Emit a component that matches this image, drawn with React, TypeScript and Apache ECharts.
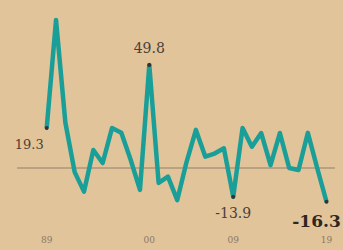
import React, { useEffect, useRef } from "react";
import * as echarts from "echarts";

const years = [
  "1989","1990","1991","1992","1993","1994","1995","1996","1997","1998",
  "1999","2000","2001","2002","2003","2004","2005","2006","2007","2008",
  "2009","2010","2011","2012","2013","2014","2015","2016","2017","2018","2019",
];
const values = [
  19.3, 71.5, 22, -2, -11.4, 8.7, 2.4, 19.3, 17, 4,
  -10.6, 49.8, -7.2, -4.2, -15.5, 3, 18.4, 5.5, 7, 9.5,
  -13.9, 19.3, 10.3, 16.9, 1.4, 16.9, 0, -1, 17, 0, -16.3,
];
const tickYears = ["1989", "2000", "2009", "2019"];
const labelled = ["1989", "2000", "2009", "2019"];

export default function App() {
  const ref = useRef<HTMLDivElement>(null);
  useEffect(() => {
    if (!ref.current) return;
    const chart = echarts.init(ref.current, undefined, { renderer: "svg" });
    const labelCfg: Record<string, any> = {
      "1989": { position: "left", distance: 2, offset: [1, 16], fontSize: 13, color: "#4a4038", fontWeight: "normal" },
      "2000": { position: "top", distance: 8, fontSize: 14, color: "#4a4038", fontWeight: "normal" },
      "2009": { position: "bottom", distance: 7, fontSize: 14, color: "#4a4038", fontWeight: "normal" },
      "2019": { position: "bottom", distance: 9, offset: [-10, 0], fontSize: 17, color: "#2e2620", fontWeight: "bold" },
    };
    const data = values.map((v, i) => {
      const y = years[i];
      if (labelled.includes(y)) {
        return {
          value: v,
          symbolSize: 4,
          itemStyle: { color: "#333" },
          label: { show: true, fontFamily: "DejaVu Serif", formatter: String(v), ...labelCfg[y] },
        };
      }
      return { value: v, symbolSize: 0 };
    });
    chart.setOption({
      animation: false,
      backgroundColor: "#e2c49b",
      grid: { left: 46.7, right: 16.5, top: 12.75, bottom: 40.6 },
      xAxis: {
        type: "category",
        data: years,
        boundaryGap: false,
        axisLine: { show: false },
        axisTick: { show: false },
        axisLabel: {
          interval: (idx: number, val: string) => tickYears.includes(val),
          formatter: (val: string) => val.slice(2),
          fontSize: 9,
          color: "#8a7865",
          fontFamily: "DejaVu Serif",
          margin: 26,
        },
      },
      yAxis: {
        type: "value",
        min: -20,
        max: 75,
        show: false,
        splitLine: { show: false },
      },
      series: [
        {
          type: "line",
          data,
          symbol: "circle",
          showSymbol: true,
          lineStyle: { color: "#1a9f98", width: 4.5, join: "round" },
          itemStyle: { color: "#1a9f98" },
          z: 3,
        },
      ],
    });
    const y0 = chart.convertToPixel({ yAxisIndex: 0 }, 0) as number;
    chart.setOption({
      graphic: [
        {
          type: "line",
          z: 1,
          shape: { x1: 17, y1: y0, x2: 335, y2: y0 },
          style: { stroke: "#b9a283", lineWidth: 2 },
        },
      ],
    });
    return () => chart.dispose();
  }, []);
  return (
    <div
      ref={ref}
      style={{ position: "fixed", left: 0, top: 0, width: 343, height: 250 }}
    />
  );
}
